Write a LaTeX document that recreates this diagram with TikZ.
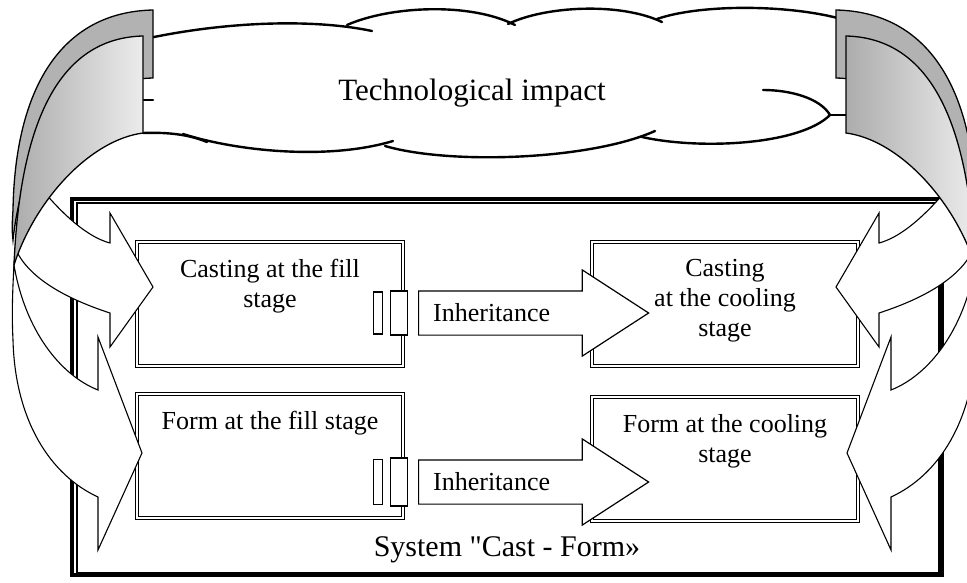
\documentclass[tikz,border=0pt]{standalone}
\usepackage{fontspec}
\setmainfont{Liberation Serif}[Ligatures=TeXOff]
\usetikzlibrary{arrows,positioning,shapes}
\tikzset{
    %Define style for the stage boxes
    box/.style={
           rectangle,
           draw=black, line width=1.3pt,
           double=white, double distance=2pt,
           minimum width=266pt,
           minimum height=124pt,
           inner sep=0pt, outer sep=0pt},
    boxtext/.style={
           align=center,
           inner sep=0pt,
           font=\fontsize{26}{30}\selectfont},
    %Define style for the system frame
    frame/.style={
           rectangle,
           draw=black, line width=4.5pt,
           minimum width=870pt,
           minimum height=376pt,
           inner sep=0pt, outer sep=0pt},
    bigtext/.style={
           inner sep=0pt,
           font=\fontsize{30}{36}\selectfont},
    % Define inheritance arrow style
    inherit/.style={
           single arrow,
           draw=black, line width=1.2pt, fill=white,
           single arrow head extend=21pt,
           single arrow tip angle=66,
           minimum height=230pt,
           text height=19pt, text depth=2pt,
           inner ysep=11pt, inner xsep=12pt,
           font=\fontsize{26}{30}\selectfont},
    port/.style={
           rectangle,
           draw=black, line width=1.2pt, fill=white,
           minimum height=43pt,
           inner sep=0pt},
    % Define styles of the curved arrows and the cloud
    bandback/.style={
           draw=black, line width=1.3pt,
           fill=gray!60},
    bandfront/.style={
           draw=black, line width=1.1pt,
           fill=white},
    cloudline/.style={
           draw=black, line width=2.4pt,
           line cap=round}
}
% one pair of curved arrows, drawn on the left side
\newcommand{\curvedarrows}{%
  \path[bandback] (153,10) .. controls (60,12) and (15,90) .. (13,210)
    .. controls (12,225) and (12,232) .. (13,240)
    .. controls (25,130) and (80,80) .. (153,78) -- cycle;
  \path[bandfront] (30,175) .. controls (50,200) and (80,235) .. (110,243)
    -- (110,213) -- (153,287) -- (110,347) -- (110,313)
    .. controls (70,300) and (30,280) .. (16,250) -- cycle;
  \path[bandback, left color=gray!65, right color=gray!15]
    (143,36) .. controls (60,38) and (20,120) .. (14,265)
    .. controls (35,200) and (90,140) .. (143,133) -- cycle;
  \path[bandfront] (14,265) .. controls (12,300) and (12,320) .. (13,340)
    .. controls (15,420) and (50,475) .. (98,497)
    -- (98,550) -- (142,453) -- (98,337) -- (98,390)
    .. controls (60,375) and (25,330) .. (14,265) -- cycle;
}

\begin{document}
\begin{tikzpicture}[x=1pt,y=-1pt]
  \useasboundingbox (0,0) rectangle (967,583);
  \clip (0,0) rectangle (967,583);
  \begin{scope}
  % the system frame
  \node[frame] (system) at (507,387) {};
  \draw[line width=1.2pt] ([shift={(5pt,-4pt)}]system.north west)
    rectangle ([shift={(-3pt,2pt)}]system.south east);
  \node[bigtext, above=12pt of system.south] (system-label) {System "Cast - Form»};
  % cloud of the technological impact
  \draw[cloudline] (140,40) .. controls (220,22) and (310,18) .. (372,31);
  \draw[cloudline] (347,25) .. controls (390,6) and (470,2) .. (515,25);
  \draw[cloudline] (508,24) .. controls (545,6) and (620,2) .. (662,22);
  \draw[cloudline] (657,19) .. controls (700,4) and (790,4) .. (845,20);
  \draw[cloudline] (140,100) -- (153,100);
  \draw[cloudline] (143,133) .. controls (170,132) and (190,135) .. (207,142);
  \draw[cloudline] (183,134) .. controls (240,152) and (330,160) .. (393,141);
  \draw[cloudline] (385,146) .. controls (450,165) and (590,160) .. (655,131);
  \draw[cloudline] (642,137) .. controls (700,150) and (800,145) .. (830,115)
    .. controls (820,98) and (790,90) .. (763,90);
  \draw[cloudline] (830,115) -- (847,115);
  \node[bigtext, font=\fontsize{31}{36}\selectfont] (impact) at (472,93) {Technological impact};
  % stage boxes
  \node[box] (cast-fill) at (270,304) {};
  \node[box, below=28pt of cast-fill] (form-fill) {};
  \node[box, right=189pt of cast-fill] (cast-cool) {};
  \node[box, below=31pt of cast-cool] (form-cool) {};
  \node[boxtext, below=17pt of cast-fill.north] (cast-fill-text) {Casting at the fill\\stage};
  \node[boxtext, below=17pt of form-fill.north] (form-fill-text) {Form at the fill stage};
  \node[boxtext, below=17pt of cast-cool.north] (cast-cool-text) {Casting\\at the cooling\\stage};
  \node[boxtext, below=17pt of form-cool.north] (form-cool-text) {Form at the cooling\\stage};
  % inheritance between the stages
  \node[inherit, right=15pt of cast-fill, yshift=-9pt] (inherit-top) {\kern-50pt Inheritance};
  \node[inherit, right=15pt of form-fill, yshift=-26pt] (inherit-bottom) {\kern-50pt Inheritance};
  \node[port, minimum width=17pt, minimum height=44pt, left=10pt of inherit-top] (port-top) {};
  \node[port, minimum width=9pt, minimum height=42pt, left=7pt of port-top] (pin-top) {};
  \node[port, minimum width=17pt, minimum height=48pt, left=10pt of inherit-bottom] (port-bottom) {};
  \node[port, minimum width=9pt, minimum height=45pt, left=7pt of port-bottom] (pin-bottom) {};
  \end{scope}
  % technological impact on the stages
  \begin{scope}
  \curvedarrows
  \end{scope}
  \begin{scope}[xshift=989pt, xscale=-1]
  \curvedarrows
  \end{scope}
\end{tikzpicture}
\end{document}
